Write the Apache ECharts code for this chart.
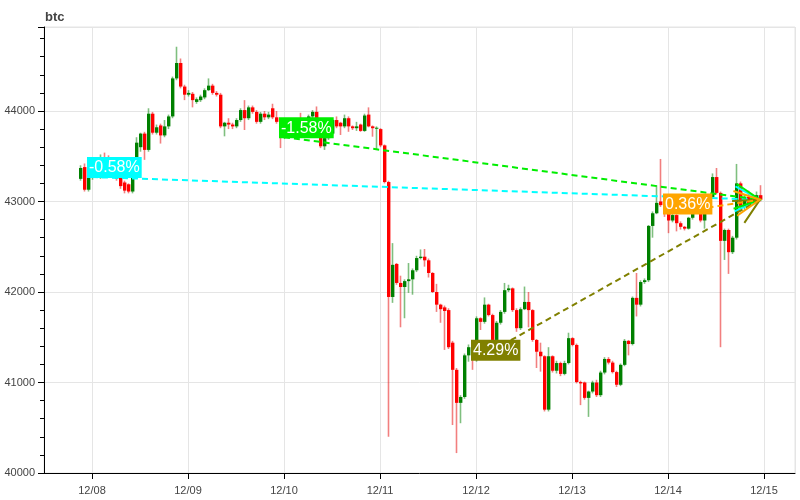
<!DOCTYPE html>
<html><head><meta charset="utf-8">
<script src="https://cdn.jsdelivr.net/npm/echarts@6/dist/echarts.min.js"></script>
<style>html,body{margin:0;padding:0;background:#fff}#c{width:800px;height:500px}</style>
</head><body><div id="c"></div>
<script>
// hourly candles, first candle 2023-12-07 21:00
const firstHour = new Date(2023, 11, 7, 21, 0, 0).getTime();
const HOUR = 3600000;
const openP = [43250,43380,43130,43270,43340,43420,43460,43390,43340,43300,43260,43210,43190,43110,43330,43600,43750,43570,43970,43760,43840,43730,43830,43940,44360,44530,44270,44180,44190,44100,44120,44150,44230,44280,44200,44180,43830,43870,43850,43830,43900,44010,43920,44040,43990,43880,43970,43930,44030,43930,43880,43711,43800,43850,43820,43880,43860,43900,43940,43990,43870,43610,43700,43750,43900,43870,43830,43920,43830,43810,43850,43780,43960,43830,43810,43800,43620,43215,41945,42310,42100,42055,42120,42140,42240,42375,42390,42350,42210,42000,41860,41830,41800,41440,41140,40775,40840,41300,41390,41250,41710,41670,41860,41745,41470,41660,41780,42020,42040,41800,41600,41810,41890,41800,41470,41340,41290,40700,41290,41130,41215,41095,41215,41490,41415,41005,41000,40830,40900,41000,40860,41110,41260,41220,41115,40975,41195,41460,41425,41935,41860,42110,42130,42730,42870,43000,42960,42866,42790,42850,42760,42720,42700,42820,42885,42900,42790,42900,43050,43270,43095,42565,42685,42440,42600,43200,42940,43050,42980,43030,43070];
const closeP = [43370,43130,43270,43340,43420,43460,43390,43340,43300,43250,43170,43120,43110,43330,43650,43750,43570,43970,43760,43820,43730,43830,43940,44360,44530,44270,44180,44200,44120,44130,44160,44230,44280,44200,44180,43830,43870,43850,43830,43900,44010,43920,44040,43990,43880,43970,43930,43960,43930,43880,43711,43800,43850,43820,43880,43860,43900,43940,43990,43870,43610,43700,43750,43900,43830,43830,43920,43830,43810,43830,43780,43950,43830,43810,43815,43620,43215,41945,42300,42100,42055,42120,42140,42240,42375,42390,42350,42210,42000,41860,41810,41790,41390,41140,40775,40840,41300,41390,41250,41710,41670,41860,41745,41470,41660,41780,42020,42040,41800,41600,41810,41890,41800,41470,41340,41290,40700,41290,41130,41215,41095,41215,41490,41415,41005,40990,40830,40900,41000,40860,41110,41260,41220,41115,40975,41195,41460,41425,41935,41860,42110,42130,42730,42870,42985,42960,42866,42790,42850,42760,42720,42700,42820,42885,42900,42790,42900,43050,43270,43095,42565,42685,42440,42600,43200,42940,43050,42980,43030,43070,43020];
const lowP = [43230,43110,43110,43240,43320,43250,43370,43310,43270,43230,43140,43090,43090,43090,43310,43550,43460,43550,43740,43740,43640,43710,43800,43920,44340,44250,44120,44160,44040,44080,44100,44130,44220,44180,44160,43810,43720,43800,43800,43810,43880,43790,43900,43970,43860,43860,43900,43910,43910,43860,43590,43690,43780,43800,43800,43830,43840,43880,43920,43850,43590,43570,43680,43730,43810,43735,43810,43770,43790,43780,43770,43770,43820,43716,43570,43600,43200,40400,41880,42080,41610,41710,41990,41970,42220,42360,42280,42160,41990,41780,41660,41360,41370,40530,40220,40550,40820,41230,41140,41230,41580,41650,41730,41450,41450,41640,41760,42000,41780,41560,41580,41800,41610,41450,41160,41120,40680,40680,41110,41100,41070,41080,41200,41400,40990,40750,40810,40620,40880,40840,40840,41090,41200,41100,40950,40960,41180,41300,41410,41730,41840,42090,42110,42600,42860,42940,42830,42650,42770,42670,42690,42680,42690,42800,42870,42770,42700,42880,43040,43080,41390,42354,42200,42420,42580,42920,42900,42950,42960,43000,43000];
const highP = [43400,43420,43330,43360,43450,43520,43540,43510,43380,43330,43280,43230,43200,43340,43710,43760,43770,44030,43990,43850,43860,43900,43960,44380,44710,44580,44290,44230,44210,44150,44180,44250,44360,44300,44220,44200,43880,43920,43870,43920,44030,44120,44060,44060,44010,43990,44000,43990,44080,44000,43900,43830,43870,43880,43920,43980,43920,43960,44010,44050,43880,43720,43770,43910,43940,43880,43960,43940,43840,43880,43860,43970,44040,43840,43830,43810,43630,43230,42540,42320,42180,42140,42320,42260,42400,42470,42475,42370,42220,42090,41870,41850,41820,41460,41160,40860,41320,41420,41440,41730,41720,41940,41870,41760,41680,41800,42100,42080,42050,41820,41830,42060,42000,41810,41480,41440,41300,41390,41300,41240,41230,41240,41550,41500,41430,41020,41010,40910,41020,41030,41130,41280,41280,41240,41130,41210,41480,41470,41950,42210,42130,42150,42740,42890,43180,43470,42980,42880,42870,42860,42780,42730,42830,42900,42920,42910,42910,43060,43310,43370,43110,42700,42700,42620,43415,43220,43080,43120,43060,43110,43180];

// annotations: start at the open of the midnight candle, end at the last close
const annStartIdx = [3, 51, 99, 147];
const annLabels = ['-0.58%', '-1.58%', '4.29%', '0.36%'];
const annColors = ['#00ffff', '#00ee00', '#808000', '#ffa500'];

const times = openP.map((_, i) => firstHour + i * HOUR);
const lastIdx = closeP.length - 1;

const candleData = times.map((t, i) => [t, openP[i], closeP[i], lowP[i], highP[i]]);
const annData = annStartIdx.map((s, k) => [times[s], openP[s], times[lastIdx], closeP[lastIdx], k]);

const FONT = '"Liberation Sans", Arial, Helvetica, sans-serif';
const UP = '#008000', DOWN = '#ff0000';
const UP_W = 'rgba(0,128,0,0.5)', DOWN_W = 'rgba(230,0,0,0.5)';

const chart = echarts.init(document.getElementById('c'), null, {renderer: 'canvas'});
chart.setOption({
  animation: false,
  backgroundColor: '#fff',
  title: {text: 'btc', left: 40, top: 6, textStyle: {fontSize: 13, fontWeight: 'bold', color: '#444', fontFamily: FONT}},
  grid: {left: 44, right: 5, top: 27, bottom: 27, show: true, borderColor: '#e5e5e5', borderWidth: 1},
  xAxis: {
    type: 'time',
    min: new Date(2023, 11, 7, 12, 0).getTime(),
    max: new Date(2023, 11, 15, 7, 45).getTime(),
    minInterval: 86400000, maxInterval: 86400000,
    axisLine: {lineStyle: {color: '#000', width: 1}},
    axisTick: {show: true, length: 6, lineStyle: {color: '#000'}},
    axisLabel: {formatter: '{MM}/{dd}', color: '#444', fontSize: 11, fontFamily: FONT, margin: 12, showMinLabel: false, showMaxLabel: false},
    splitLine: {show: true, lineStyle: {color: '#e5e5e5', width: 1}}
  },
  yAxis: {
    type: 'value', min: 40000, max: 44928, interval: 1000, scale: true,
    axisLine: {show: true, lineStyle: {color: '#000', width: 1}},
    axisTick: {show: true, length: 6, lineStyle: {color: '#000'}},
    minorTick: {show: true, splitNumber: 5, length: 4, lineStyle: {color: '#000'}},
    axisLabel: {color: '#444', fontSize: 11, fontFamily: FONT, margin: 9, showMaxLabel: false,
      formatter: v => (v % 1000 === 0 ? String(v) : '')},
    splitLine: {show: true, lineStyle: {color: '#e5e5e5', width: 1}}
  },
  series: [
    {
      type: 'custom', name: 'candles', data: candleData, z: 2,
      encode: {x: 0, y: [1, 2, 3, 4]},
      renderItem: (params, api) => {
        const t = api.value(0), o = api.value(1), c = api.value(2), l = api.value(3), h = api.value(4);
        const up = c >= o;
        const pl = api.coord([t, l]), ph = api.coord([t, h]);
        const po = api.coord([t, o]), pc = api.coord([t, c]);
        const cx = Math.round(pl[0]);
        const top = Math.min(po[1], pc[1]), bot = Math.max(po[1], pc[1]);
        return {type: 'group', children: [
          {type: 'line', shape: {x1: cx + 0.5, y1: ph[1], x2: cx + 0.5, y2: pl[1]}, style: {stroke: up ? UP_W : DOWN_W, lineWidth: 1.6}},
          {type: 'rect', shape: {x: cx - 1, y: top, width: 3.4, height: Math.max(bot - top, 1)}, style: {fill: up ? UP : DOWN}}
        ]};
      }
    },
    {
      type: 'custom', name: 'lines', data: annData, clip: false, z: 5,
      encode: {x: [0, 2], y: [1, 3]},
      renderItem: (params, api) => {
        const s = api.coord([api.value(0), api.value(1)]);
        const e = api.coord([api.value(2), api.value(3)]);
        const col = annColors[api.value(4)];
        const dx = e[0] - s[0], dy = e[1] - s[1];
        const len = Math.hypot(dx, dy);
        const ux = dx / len, uy = dy / len, size = 25;
        const bx = e[0] - ux * size, by = e[1] - uy * size;
        const px = -uy * size / 2, py = ux * size / 2;
        return {type: 'group', children: [
          {type: 'line', shape: {x1: s[0], y1: s[1], x2: e[0], y2: e[1]}, style: {stroke: col, lineWidth: 2, lineDash: [6, 4]}},
          {type: 'polyline', shape: {points: [[bx + px, by + py], [e[0], e[1]], [bx - px, by - py]]}, style: {stroke: col, lineWidth: 2, fill: null}}
        ]};
      }
    },
    {
      type: 'custom', name: 'labels', data: annData, clip: false, z: 6,
      encode: {x: 0, y: 1},
      renderItem: (params, api) => {
        const s = api.coord([api.value(0), api.value(1)]);
        const k = api.value(4);
        return {type: 'text', x: s[0] - 5, y: s[1] + 1, style: {
          text: annLabels[k], fill: '#fff', font: '16px ' + FONT,
          backgroundColor: annColors[k], padding: [3, 2, 2, 2], align: 'left', verticalAlign: 'bottom'}};
      }
    }
  ]
});
</script></body></html>
